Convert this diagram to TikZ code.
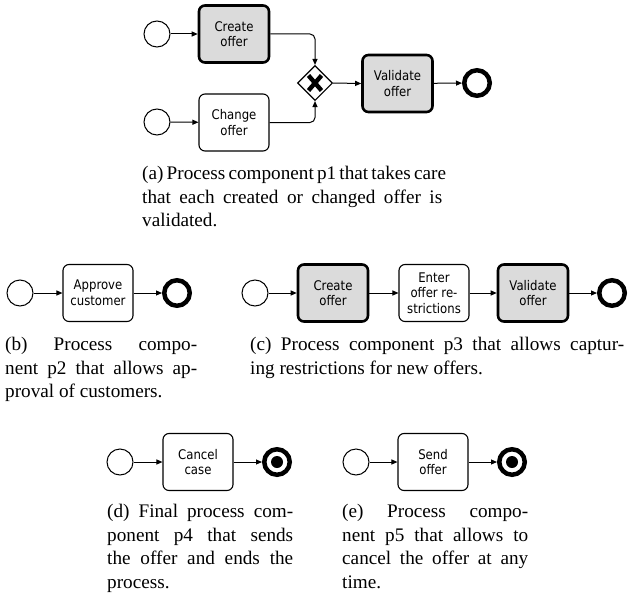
\documentclass[tikz,border=0pt]{standalone}
\usepackage{fontspec}
\setmainfont{Liberation Serif}
\newfontfamily\boxfont{DejaVu Sans}[FakeStretch=0.88]
\usetikzlibrary{arrows.meta,shapes.geometric}
\begin{document}
\begin{tikzpicture}[x=1pt,y=-1pt,
  task/.style={draw, rounded corners=6pt, minimum width=70pt, minimum height=57pt,
    inner sep=0pt, align=center, font=\boxfont\fontsize{13.3}{15.6}\selectfont,
    line width=1.1pt, fill=white},
  maintask/.style={task, fill=gray!28, line width=2.6pt},
  startev/.style={draw, circle, minimum size=26pt, inner sep=0pt, line width=1pt},
  endev/.style={draw, circle, minimum size=25.5pt, inner sep=0pt, line width=4.5pt},
  gateway/.style={draw, diamond, minimum size=35pt, inner sep=0pt, line width=1.1pt},
  flow/.style={-{Triangle[length=6pt,width=5pt]}, line width=1pt},
  capt/.style={anchor=north west, inner sep=0pt, text width=#1, align=justify,
    font=\fontsize{19.2}{23.5}\selectfont},
]
\useasboundingbox[fill=white] (0,0) rectangle (631,602);

% (a) component p1
\node[startev] (a1) at (157,34) {};
\node[startev] (a2) at (157,122) {};
\node[maintask] (acreate) at (234,34) {Create\\offer};
\node[task] (achange) at (234,122.5) {Change\\offer};
\node[gateway] (agw) at (315,83) {};
\draw[line width=4.4pt] (agw.center) +(-6.5,-7.5) -- +(6.5,7.5);
\draw[line width=4.4pt] (agw.center) +(6.5,-7.5) -- +(-6.5,7.5);
\node[maintask] (avalid) at (397.5,83.5) {Validate\\offer};
\node[endev] (aend) at (477,83) {};
\draw[flow] (a1) -- (acreate);
\draw[flow] (a2) -- (achange);
\draw[flow, rounded corners=5pt] (acreate.east) -| (agw.north);
\draw[flow, rounded corners=5pt] (achange.east) -| (agw.south);
\draw[flow] (agw.east) -- (avalid.west);
\draw[flow] (avalid) -- (aend);
\node[capt=300pt] (acap) at (142,166) {\makebox[\linewidth][s]{(a) Process component p1 that takes care}\linebreak
  that each created or changed offer is\linebreak validated.};

% (b) component p2
\node[startev] (b1) at (20,293) {};
\node[task] (bapprove) at (98,293) {Approve\\customer};
\node[endev] (bend) at (177,293) {};
\draw[flow] (b1) -- (bapprove);
\draw[flow] (bapprove) -- (bend);
\node[capt=192pt] (bcap) at (5,337) {(b) Process compo-\linebreak
  nent p2 that allows ap-\linebreak proval of customers.};

% (c) component p3
\node[startev] (c1) at (255,293) {};
\node[maintask] (ccreate) at (333,293) {Create\\offer};
\node[task] (center) at (434,293) {Enter\\offer re-\\strictions};
\node[maintask] (cvalid) at (533,293) {Validate\\offer};
\node[endev] (cend) at (612,293) {};
\draw[flow] (c1) -- (ccreate);
\draw[flow] (ccreate) -- (center);
\draw[flow] (center) -- (cvalid);
\draw[flow] (cvalid) -- (cend);
\node[capt=374pt] (ccap) at (250,337) {(c) Process component p3 that allows captur-\linebreak
  ing restrictions for new offers.};

% (d) component p4
\node[startev] (d1) at (120,462) {};
\node[task] (dcancel) at (198,462) {Cancel\\case};
\node[endev] (dend) at (277,462) {};
\fill (dend.center) circle[radius=6];
\draw[flow] (d1) -- (dcancel);
\draw[flow] (dcancel) -- (dend);
\node[capt=186pt] (dcap) at (107,504) {(d) Final process com-\linebreak
  ponent p4 that sends\linebreak the offer and ends the\linebreak process.};

% (e) component p5
\node[startev] (e1) at (356,462) {};
\node[task] (esend) at (433,462) {Send\\offer};
\node[endev] (eend) at (512,462) {};
\fill (eend.center) circle[radius=6];
\draw[flow] (e1) -- (esend);
\draw[flow] (esend) -- (eend);
\node[capt=186pt] (ecap) at (342,504) {(e) Process compo-\linebreak
  nent p5 that allows to\linebreak cancel the offer at any\linebreak time.};
\end{tikzpicture}
\end{document}
